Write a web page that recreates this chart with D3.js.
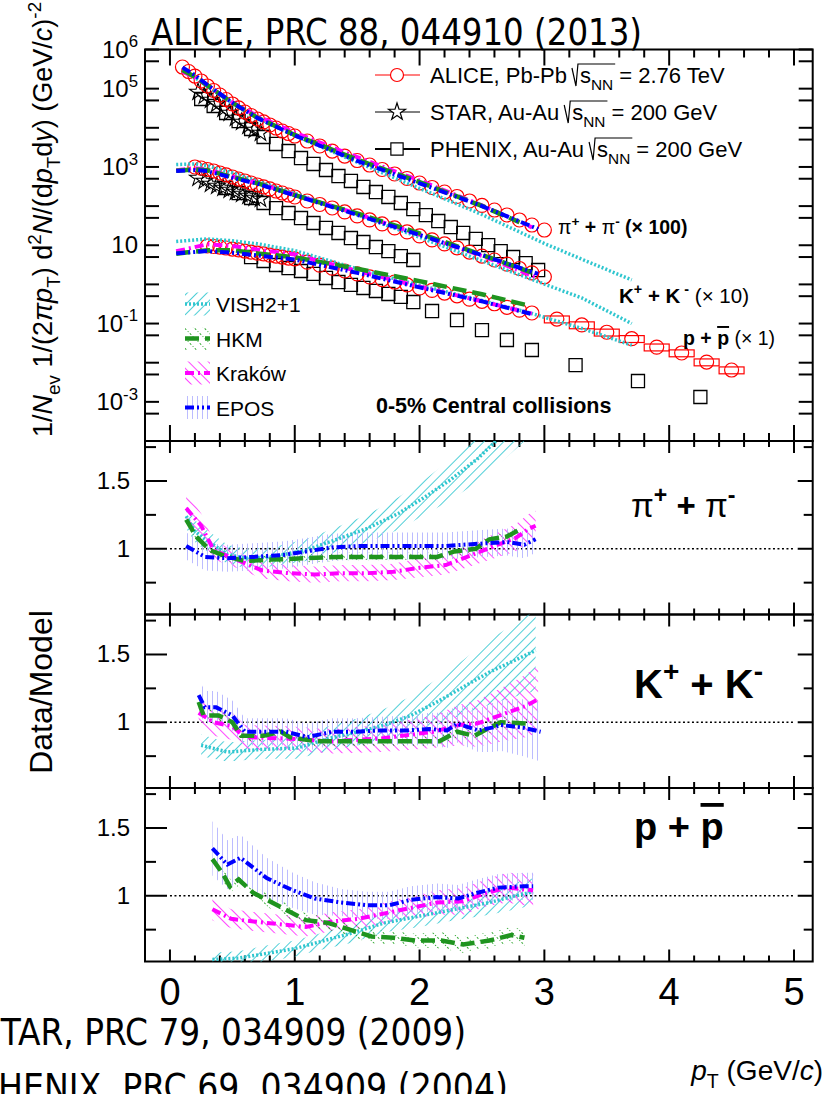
<!DOCTYPE html>
<html>
<head>
<meta charset="utf-8">
<script src="https://cdn.jsdelivr.net/npm/d3@7"></script>
<style>
  body { margin: 0; background: #fff; }
  svg { display: block; }
  text { font-family: "Liberation Sans", Arial, sans-serif; fill: #000; white-space: pre; }
  .hand { font-family: "DejaVu Sans Condensed", "DejaVu Sans", sans-serif; }
</style>
</head>
<body>
<svg id="chart" width="825" height="1094"></svg>
<script>
// ALICE Pb-Pb 0-5%, [pT, yield]; pions x100, kaons x10
const alicePion = [[0.1,357000],[0.15,274000],[0.2,210000],[0.25,157000],[0.3,117000],[0.35,89700],[0.4,68800],[0.45,52800],[0.5,40600],[0.55,32100],[0.6,25300],[0.65,20600],[0.7,16800],[0.75,14100],[0.8,11800],[0.85,9880],[0.9,8280],[0.95,7150],[1.0,6170],[1.1,4600],[1.2,3430],[1.3,2550],[1.4,1900],[1.5,1460],[1.6,1120],[1.7,861],[1.8,661],[1.9,507],[2.0,389],[2.1,299],[2.2,229],[2.3,176],[2.4,135],[2.5,104],[2.6,79.4],[2.7,59.3],[2.8,44.2],[2.9,32.9],[3.0,24.5]];
const aliceKaon = [[0.2,998],[0.25,940],[0.3,861],[0.35,789],[0.4,701],[0.45,624],[0.5,554],[0.55,492],[0.6,438],[0.65,389],[0.7,346],[0.75,308],[0.8,274],[0.85,243],[0.9,216],[0.95,192],[1.0,171],[1.1,135],[1.2,110],[1.3,89.5],[1.4,70.8],[1.5,56],[1.6,44.3],[1.7,35],[1.8,27.7],[1.9,21.9],[2.0,17.3],[2.1,13.7],[2.2,10.8],[2.3,8.6],[2.4,6.7],[2.5,5.3],[2.6,4.2],[2.7,3.3],[2.8,2.55],[2.9,1.97],[3.0,1.56]];
const aliceProton = [[0.3,9.57],[0.35,9.3],[0.4,9.0],[0.45,8.5],[0.5,8.0],[0.55,7.6],[0.6,7.1],[0.65,6.7],[0.7,6.3],[0.75,6.0],[0.8,5.6],[0.85,5.3],[0.9,5.0],[0.95,4.7],[1.0,4.5],[1.1,3.7],[1.2,3.1],[1.3,2.6],[1.4,2.2],[1.5,1.85],[1.6,1.55],[1.7,1.33],[1.8,1.15],[1.9,0.97],[2.0,0.81],[2.1,0.70],[2.2,0.60],[2.3,0.51],[2.4,0.42],[2.5,0.37],[2.6,0.32],[2.7,0.26],[2.8,0.22],[2.9,0.186],[3.1,0.13],[3.3,0.092],[3.5,0.06],[3.7,0.041],[3.9,0.025],[4.1,0.0177],[4.3,0.0104],[4.5,0.0065]];
const aliceProtonSys = 0.2;

// STAR and PHENIX Au-Au 200 GeV
const starPion = [[0.225,82000],[0.275,64900],[0.325,51300],[0.375,40600],[0.425,30200],[0.475,23900],[0.525,17800],[0.575,14100],[0.625,11100],[0.675,8800],[0.725,7370]];
const starKaon = [[0.225,522],[0.275,438],[0.325,367],[0.375,326],[0.425,290],[0.475,258],[0.525,229],[0.575,204],[0.625,181],[0.675,161],[0.725,152]];
const phenixPion = [[0.25,54500],[0.35,36100],[0.45,23900],[0.55,14900],[0.65,9320],[0.75,5820],[0.85,3860],[0.95,2550],[1.05,1690],[1.15,1190],[1.25,836],[1.35,587],[1.45,438],[1.55,308],[1.65,229],[1.75,171],[1.85,120],[1.95,84],[2.05,59],[2.15,41.6],[2.25,29.2],[2.35,20.6],[2.45,14.5],[2.55,10.1],[2.65,7.1],[2.75,5.0],[2.85,3.5],[2.95,2.33]];
const phenixKaon = [[0.45,290],[0.55,216],[0.65,161],[0.75,120],[0.85,89],[0.95,66.6],[1.05,49.6],[1.15,37],[1.25,27.6],[1.35,20.6],[1.45,15.3],[1.55,12.1],[1.65,9.0],[1.75,7.1],[1.85,5.3],[1.95,4.2]];
const phenixProton = [[0.65,5.0],[0.75,3.96],[0.85,3.13],[0.95,2.62],[1.05,2.2],[1.15,1.85],[1.25,1.46],[1.35,1.15],[1.45,0.97],[1.55,0.81],[1.65,0.68],[1.75,0.57],[1.85,0.48],[1.95,0.355],[2.1,0.209],[2.3,0.123],[2.5,0.068],[2.7,0.038],[2.9,0.0211],[3.25,0.0087],[3.75,0.0034],[4.25,0.00133]];

// model spectra, same scaling as the data
const vishPion = [[0.1,288000],[0.2,191000],[0.3,115000],[0.5,42300],[0.7,18100],[1.0,6360],[1.5,1320],[2.0,284],[2.5,61],[3.0,11.1],[3.3,4.4],[3.7,1.3]];
const hkmPion = [[0.1,297000],[0.2,200000],[0.3,121000],[0.5,43700],[0.7,18100],[1.0,6560],[1.5,1550],[2.0,409],[2.5,101],[2.8,38.8]];
const krakowPion = [[0.1,275000],[0.2,188000],[0.3,122000],[0.5,44600],[0.7,20000],[1.0,7520],[1.5,1780],[2.0,452],[2.5,105],[2.9,28.6]];
const eposPion = [[0.1,350000],[0.2,221000],[0.3,124000],[0.5,43700],[0.7,17900],[1.0,6360],[1.5,1430],[2.0,381],[2.5,100],[2.95,26]];
const vishKaon = [[0.05,1150],[0.2,1200],[0.3,1076],[0.5,710],[0.7,433],[1.0,211],[1.5,60],[2.0,16],[2.5,4.0],[3.0,1.02],[3.3,0.45],[3.7,0.10]];
const hkmKaon = [[0.05,800],[0.2,868],[0.3,820],[0.5,554],[0.7,384],[1.0,190],[1.5,65],[2.0,20.1],[2.5,5.7],[2.9,2.0]];
const krakowKaon = [[0.05,830],[0.2,933],[0.3,861],[0.5,571],[0.7,389],[1.0,194],[1.5,64],[2.0,18.6],[2.5,5.35],[2.95,1.45]];
const eposKaon = [[0.05,790],[0.2,832],[0.3,783],[0.5,528],[0.7,372],[1.0,188],[1.5,60],[2.0,18.2],[2.5,5.6],[2.95,1.85]];
const vishProton = [[0.05,12.5],[0.3,14.5],[0.5,13],[0.7,10.9],[1.0,7.3],[1.5,2.5],[2.0,0.95],[2.5,0.39],[2.9,0.18],[3.3,0.075],[3.7,0.028]];
const hkmProton = [[0.05,6.1],[0.3,7.5],[0.5,7.5],[0.7,6.2],[1.0,4.9],[1.5,2.5],[2.0,1.21],[2.5,0.56],[2.85,0.3]];
const krakowProton = [[0.05,7.0],[0.3,10.6],[0.5,9.6],[0.7,7.8],[1.0,5.8],[1.5,2.2],[2.0,0.88],[2.5,0.37],[2.9,0.179]];
const eposProton = [[0.05,6.2],[0.3,7.1],[0.5,6.4],[0.7,5.5],[1.0,4.3],[1.5,1.97],[2.0,0.84],[2.5,0.37],[2.9,0.174]];

// data/model ratios, [pT, ratio, band half-width]
const vishPionR = [[0.13,1.24,0.09],[0.2,1.13,0.08],[0.28,1.07,0.08],[0.46,0.96,0.07],[0.6,0.93,0.07],[0.81,0.94,0.07],[1.09,0.99,0.08],[1.34,1.07,0.09],[1.58,1.15,0.1],[1.83,1.26,0.12],[2.04,1.38,0.13],[2.25,1.51,0.15],[2.46,1.66,0.17],[2.63,1.81,0.19],[2.8,1.97,0.21],[2.95,2.12,0.23]];
const hkmPionR = [[0.13,1.215,0.03],[0.21,1.09,0.03],[0.32,0.99,0.03],[0.46,0.94,0.03],[0.6,0.91,0.03],[0.81,0.92,0.03],[1.09,0.93,0.03],[1.34,0.94,0.03],[1.58,0.94,0.03],[1.86,0.94,0.03],[2.14,0.94,0.03],[2.28,0.98,0.03],[2.45,1.0,0.03],[2.56,1.07,0.03],[2.7,1.09,0.03],[2.8,1.14,0.03]];
const krakowPionR = [[0.13,1.3,0.12],[0.25,1.17,0.09],[0.35,0.99,0.07],[0.53,0.92,0.06],[0.74,0.84,0.06],[0.95,0.82,0.06],[1.16,0.81,0.06],[1.37,0.82,0.06],[1.58,0.82,0.06],[1.79,0.83,0.06],[2.0,0.86,0.07],[2.21,0.88,0.07],[2.42,0.955,0.08],[2.6,1.02,0.09],[2.77,1.08,0.1],[2.88,1.15,0.11],[2.93,1.17,0.11]];
const eposPionR = [[0.13,1.02,0.1],[0.28,0.94,0.1],[0.46,0.93,0.1],[0.67,0.94,0.1],[0.92,0.955,0.1],[1.09,0.98,0.1],[1.3,1.01,0.1],[1.51,1.02,0.1],[1.72,1.02,0.1],[1.97,1.02,0.1],[2.21,1.02,0.1],[2.35,1.03,0.1],[2.53,1.04,0.1],[2.7,1.05,0.1],[2.84,1.03,0.1],[2.93,1.07,0.1]];

const vishKaonR = [[0.25,0.83,0.08],[0.46,0.78,0.07],[0.74,0.8,0.07],[1.02,0.81,0.08],[1.27,0.88,0.09],[1.51,0.93,0.1],[1.72,0.98,0.12],[1.93,1.05,0.14],[2.14,1.15,0.17],[2.35,1.26,0.2],[2.56,1.37,0.24],[2.77,1.46,0.27],[2.93,1.53,0.3]];
const hkmKaonR = [[0.23,1.15,0.04],[0.27,1.05,0.04],[0.39,1.05,0.04],[0.5,1.0,0.04],[0.57,0.9,0.04],[0.75,0.9,0.04],[0.89,0.93,0.04],[0.96,0.89,0.04],[1.17,0.86,0.04],[1.45,0.86,0.04],[1.73,0.86,0.04],[1.95,0.86,0.04],[2.16,0.86,0.04],[2.3,0.93,0.04],[2.44,0.9,0.04],[2.54,0.95,0.04],[2.65,1.0,0.04],[2.86,0.99,0.04]];
const krakowKaonR = [[0.23,1.07,0.1],[0.35,1.0,0.1],[0.5,0.97,0.1],[0.6,0.89,0.09],[0.93,0.88,0.09],[1.3,0.86,0.09],[1.69,0.88,0.1],[2.11,0.93,0.12],[2.32,0.98,0.15],[2.46,0.99,0.17],[2.67,1.06,0.2],[2.85,1.12,0.23],[2.95,1.17,0.25]];
const eposKaonR = [[0.23,1.2,0.12],[0.28,1.11,0.12],[0.37,1.11,0.12],[0.5,1.05,0.11],[0.6,0.93,0.1],[0.82,0.93,0.1],[0.93,0.93,0.1],[1.1,0.89,0.1],[1.3,0.93,0.1],[1.48,0.93,0.1],[1.69,0.94,0.1],[1.9,0.94,0.11],[2.08,0.95,0.12],[2.22,0.94,0.13],[2.3,0.99,0.14],[2.47,0.94,0.16],[2.58,0.96,0.18],[2.65,0.98,0.19],[2.83,0.96,0.21],[2.97,0.93,0.22]];

const vishProtonR = [[0.34,0.53,0.05],[0.55,0.54,0.05],[0.81,0.58,0.06],[1.0,0.61,0.06],[1.16,0.65,0.06],[1.44,0.72,0.07],[1.72,0.8,0.07],[2.0,0.85,0.08],[2.28,0.9,0.08],[2.56,0.95,0.09],[2.77,1.0,0.1],[2.91,1.03,0.1]];
const hkmProtonR = [[0.34,1.27,0.05],[0.425,1.16,0.05],[0.48,1.07,0.05],[0.55,1.12,0.05],[0.67,1.02,0.05],[0.88,0.92,0.05],[1.09,0.82,0.05],[1.265,0.8,0.05],[1.44,0.75,0.05],[1.615,0.7,0.05],[1.79,0.69,0.05],[1.965,0.67,0.05],[2.175,0.67,0.06],[2.35,0.64,0.06],[2.56,0.67,0.06],[2.735,0.71,0.06],[2.84,0.69,0.06]];
const krakowProtonR = [[0.34,0.9,0.08],[0.49,0.83,0.07],[0.67,0.81,0.07],[0.88,0.79,0.07],[1.09,0.77,0.07],[1.3,0.81,0.07],[1.51,0.83,0.07],[1.72,0.87,0.08],[1.93,0.91,0.08],[2.14,0.95,0.09],[2.35,0.96,0.1],[2.53,1.02,0.1],[2.7,1.06,0.11],[2.91,1.04,0.12]];
const eposProtonR = [[0.34,1.35,0.2],[0.46,1.23,0.18],[0.565,1.28,0.17],[0.775,1.13,0.15],[0.985,1.04,0.13],[1.16,0.98,0.12],[1.37,0.95,0.1],[1.58,0.93,0.1],[1.755,0.93,0.1],[1.93,0.97,0.1],[2.14,0.99,0.1],[2.31,0.98,0.1],[2.455,1.02,0.1],[2.63,1.06,0.1],[2.84,1.07,0.1],[2.91,1.07,0.1]];

const xMajor = [0, 1, 2, 3, 4, 5];
const yLabels = [1e6, 1e5, 1e3, 10, 1e-1, 1e-3];
const ratioLabels = [1.5, 1];

const models = [
  { name: 'VISH2+1', color: '#2fc6cf', dash: '2,2', width: 3.5, hatch: 'hVish' },
  { name: 'HKM', color: '#1f941f', dash: '14,6', width: 4.5, hatch: 'hHkm' },
  { name: 'Kraków', color: '#ff00ff', dash: '9,4,2,4', width: 4, hatch: 'hKrakow' },
  { name: 'EPOS', color: '#0000ff', dash: '9,3,2,3,2,3', width: 4, hatch: 'hEpos' }
];
const drawOrder = [0, 2, 1, 3];

const svg = d3.select('#chart');
const defs = svg.append('defs');

const x = d3.scaleLinear().domain([-0.2, 5.15]).range([145, 812.7]);
const spec = { top: 49.5, bottom: 441 };
const ySpec = d3.scaleLog().domain([1e-4, 1e6]).range([spec.bottom, spec.top]);

const ratioPanels = [
  { top: 441, bottom: 614.5, curves: [vishPionR, hkmPionR, krakowPionR, eposPionR] },
  { top: 614.5, bottom: 788, curves: [vishKaonR, hkmKaonR, krakowKaonR, eposKaonR] },
  { top: 788, bottom: 961.5, curves: [vishProtonR, hkmProtonR, krakowProtonR, eposProtonR] }
];
ratioPanels.forEach(p => {
  p.y = d3.scaleLinear().domain([0.515, 1.795]).range([p.bottom, p.top]);
});

function hatch(id, color, angle, gap, width, dash) {
  let p = defs.append('pattern')
    .attr('id', id)
    .attr('patternUnits', 'userSpaceOnUse')
    .attr('width', gap).attr('height', gap)
    .attr('patternTransform', 'rotate(' + angle + ')');
  p.append('line')
    .attr('x1', gap / 2).attr('y1', 0).attr('x2', gap / 2).attr('y2', gap)
    .attr('stroke', color).attr('stroke-width', width)
    .attr('stroke-dasharray', dash || null);
}
hatch('hVish', '#3cc9d2', 45, 7, 0.9);
hatch('hHkm', '#2aa52a', -45, 7, 1, '1,2');
hatch('hKrakow', '#ff33ff', -45, 7, 0.9);
hatch('hEpos', '#b4b4ff', 0, 5, 0.9);

function clip(id, x0, y0, x1, y1) {
  defs.append('clipPath').attr('id', id)
    .append('rect').attr('x', x0).attr('y', y0).attr('width', x1 - x0).attr('height', y1 - y0);
  return 'url(#' + id + ')';
}

// text with sub/superscripts, italics etc.
function rich(text, parts, fs) {
  let off = 0;
  parts.forEach(p => {
    let target = p.sub ? fs * 0.3 : p.sup ? -fs * 0.42 : 0;
    let ts = text.append('tspan').attr('dy', target - off).text(p.t);
    off = target;
    if (p.sub || p.sup) ts.attr('font-size', fs * 0.7);
    if (p.i) ts.attr('font-style', 'italic');
    if (p.b) ts.attr('font-weight', 'bold');
    if (p.over) ts.style('text-decoration', 'overline');
  });
  return text;
}

const xMinor = d3.range(1, 26).map(i => i * 0.2).filter(v => Math.abs(v - Math.round(v)) > 1e-6);

function xTicks(g, y0, y1, lenMaj, lenMin) {
  xMajor.forEach(v => {
    g.append('line').attr('x1', x(v)).attr('x2', x(v)).attr('y1', y0).attr('y2', y0 + lenMaj);
    g.append('line').attr('x1', x(v)).attr('x2', x(v)).attr('y1', y1).attr('y2', y1 - lenMaj);
  });
  xMinor.forEach(v => {
    g.append('line').attr('x1', x(v)).attr('x2', x(v)).attr('y1', y0).attr('y2', y0 + lenMin);
    g.append('line').attr('x1', x(v)).attr('x2', x(v)).attr('y1', y1).attr('y2', y1 - lenMin);
  });
}

const x0 = x.range()[0], x1 = x.range()[1];
const axes = svg.append('g').attr('stroke', '#000').attr('stroke-width', 2);

// ---------- spectra panel ----------
const specG = svg.append('g').attr('clip-path', clip('clipSpec', x0, spec.top, x1, spec.bottom));

const phenixSets = [phenixPion, phenixKaon, phenixProton];
const starSets = [starPion, starKaon];
const aliceSets = [alicePion, aliceKaon, aliceProton];

phenixSets.forEach(set => {
  specG.append('g').selectAll('path').data(set).enter().append('path')
    .attr('d', d3.symbol(d3.symbolSquare, 170)())
    .attr('transform', d => 'translate(' + x(d[0]) + ',' + ySpec(d[1]) + ')')
    .attr('fill', 'none').attr('stroke', '#000').attr('stroke-width', 1.3);
});

starSets.forEach(set => {
  specG.append('g').selectAll('path').data(set).enter().append('path')
    .attr('d', d3.symbol(d3.symbolStar, 90)())
    .attr('transform', d => 'translate(' + x(d[0]) + ',' + ySpec(d[1]) + ')')
    .attr('fill', 'none').attr('stroke', '#000').attr('stroke-width', 1.1);
});

// systematic boxes on the wide high-pT proton bins
specG.append('g').selectAll('rect').data(aliceProton.filter(d => d[0] > 3)).enter().append('rect')
  .attr('x', d => x(d[0] - 0.1))
  .attr('width', d => x(d[0] + 0.1) - x(d[0] - 0.1))
  .attr('y', d => ySpec(d[1] * (1 + aliceProtonSys)))
  .attr('height', d => ySpec(d[1] * (1 - aliceProtonSys)) - ySpec(d[1] * (1 + aliceProtonSys)))
  .attr('fill', 'none').attr('stroke', '#ff0000').attr('stroke-width', 1.2);

aliceSets.forEach(set => {
  specG.append('g').selectAll('circle').data(set).enter().append('circle')
    .attr('cx', d => x(d[0])).attr('cy', d => ySpec(d[1])).attr('r', 7)
    .attr('fill', 'none').attr('stroke', '#ff0000').attr('stroke-width', 1.2);
});

const specModels = [
  [vishPion, vishKaon, vishProton],
  [hkmPion, hkmKaon, hkmProton],
  [krakowPion, krakowKaon, krakowProton],
  [eposPion, eposKaon, eposProton]
];
const specLine = d3.line().x(d => x(d[0])).y(d => ySpec(d[1]));
drawOrder.forEach(m => {
  specModels[m].forEach(set => {
    specG.append('path').attr('d', specLine(set))
      .attr('fill', 'none').attr('stroke', models[m].color)
      .attr('stroke-width', models[m].width).attr('stroke-dasharray', models[m].dash);
  });
});

axes.append('rect').attr('x', x0).attr('y', spec.top).attr('width', x1 - x0).attr('height', spec.bottom - spec.top).attr('fill', 'none');
xTicks(axes, spec.top, spec.bottom, 16, 8);
d3.range(-4, 7).forEach(n => {
  [Math.pow(10, n), 5 * Math.pow(10, n - 1)].forEach(v => {
    if (v < 1e-4 || v > 1e6) return;
    let yy = ySpec(v);
    axes.append('line').attr('x1', x0).attr('x2', x0 + 14).attr('y1', yy).attr('y2', yy);
    axes.append('line').attr('x1', x1).attr('x2', x1 - 14).attr('y1', yy).attr('y2', yy);
  });
});

yLabels.forEach(v => {
  let n = Math.round(Math.log10(v));
  let t = svg.append('text').attr('x', 138).attr('y', ySpec(v) + 8).attr('text-anchor', 'end').attr('font-size', 24);
  if (n === 1) t.text('10');
  else rich(t, [{ t: '10' }, { t: String(n), sup: true }], 24);
});

// data legend
const leg = svg.append('g');
const legRows = [
  { y: 75, label: 'ALICE, Pb-Pb', energy: '2.76 TeV', mark: 'circle', lw: 1.2, color: '#ff0000' },
  { y: 112, label: 'STAR, Au-Au', energy: '200 GeV', mark: 'star', lw: 1, color: '#000' },
  { y: 149, label: 'PHENIX, Au-Au', energy: '200 GeV', mark: 'square', lw: 2.2, color: '#000' }
];
legRows.forEach(r => {
  leg.append('line').attr('x1', 375).attr('x2', 420).attr('y1', r.y).attr('y2', r.y)
    .attr('stroke', r.color).attr('stroke-width', r.lw);
  if (r.mark === 'circle') {
    leg.append('circle').attr('cx', 397).attr('cy', r.y).attr('r', 6.5)
      .attr('fill', '#fff').attr('stroke', r.color).attr('stroke-width', 1.2);
  } else {
    leg.append('path')
      .attr('d', d3.symbol(r.mark === 'star' ? d3.symbolStar : d3.symbolSquare, r.mark === 'star' ? 90 : 150)())
      .attr('transform', 'translate(397,' + r.y + ')')
      .attr('fill', '#fff').attr('stroke', '#000').attr('stroke-width', 1.2);
  }
  let base = r.y + 8;
  let t1 = leg.append('text').attr('x', 430).attr('y', base).attr('font-size', 22).text(r.label);
  let sx = 430 + t1.node().getComputedTextLength() + 5;
  let t2 = leg.append('text').attr('x', sx + 8).attr('y', base).attr('font-size', 22);
  rich(t2, [{ t: 's' }, { t: 'NN', sub: true }], 22);
  let w2 = t2.node().getBBox().width;
  let top = base - 19;
  leg.append('path')
    .attr('d', 'M' + sx + ',' + (top + 4) + 'L' + (sx + 4) + ',' + (base + 3) + 'L' + (sx + 6) + ',' + top + 'L' + (sx + 10 + w2) + ',' + top)
    .attr('fill', 'none').attr('stroke', '#000').attr('stroke-width', 1.2);
  leg.append('text').attr('x', sx + 14 + w2).attr('y', base).attr('font-size', 22).text('= ' + r.energy);
});

// model legend
const mLegY = [304, 338.5, 373, 407.5];
models.forEach((m, i) => {
  let yy = mLegY[i];
  leg.append('rect').attr('x', 185).attr('y', yy - 11.5).attr('width', 25).attr('height', 23)
    .attr('fill', 'url(#' + m.hatch + ')');
  leg.append('line').attr('x1', 185).attr('x2', 210).attr('y1', yy).attr('y2', yy)
    .attr('stroke', m.color).attr('stroke-width', m.width).attr('stroke-dasharray', m.dash);
  leg.append('text').attr('x', 216).attr('y', yy + 8).attr('font-size', 21).text(m.name);
});

svg.append('text').attr('x', 376).attr('y', 413).attr('font-size', 21.5).attr('font-weight', 'bold')
  .text('0-5% Central collisions');

rich(svg.append('text').attr('x', 558).attr('y', 234).attr('font-size', 19.5), [
  { t: 'π' }, { t: '+', sup: true, b: true }, { t: ' + ', b: true }, { t: 'π' }, { t: '-', sup: true, b: true }, { t: ' (× 100)', b: true }
], 19.5);
rich(svg.append('text').attr('x', 619).attr('y', 303).attr('font-size', 20.5), [
  { t: 'K', b: true }, { t: '+', sup: true, b: true }, { t: ' + K', b: true }, { t: ' -', sup: true, b: true }, { t: ' (× 10)' }
], 20.5);
rich(svg.append('text').attr('x', 683).attr('y', 345).attr('font-size', 19.5), [
  { t: 'p + ', b: true }, { t: 'p', b: true, over: true }, { t: ' (× 1)' }
], 19.5);

// ---------- ratio panels ----------
const ratioNames = [
  [{ t: 'π' }, { t: '+', sup: true, b: true }, { t: ' + ', b: true }, { t: 'π' }, { t: '-', sup: true, b: true }],
  [{ t: 'K', b: true }, { t: '+', sup: true, b: true }, { t: ' + K', b: true }, { t: '-', sup: true, b: true }],
  [{ t: 'p + ', b: true }, { t: 'p', b: true, over: true }]
];
const ratioNamePos = [[631, 517, 33], [634, 698, 40], [634, 840, 38]];

ratioPanels.forEach((p, k) => {
  let g = svg.append('g').attr('clip-path', clip('clipR' + k, x0, p.top, x1, p.bottom));
  let area = d3.area().x(d => x(d[0])).y0(d => p.y(d[1] - d[2])).y1(d => p.y(d[1] + d[2]));
  let line = d3.line().x(d => x(d[0])).y(d => p.y(d[1]));

  g.append('line').attr('x1', x(0)).attr('x2', x(5)).attr('y1', p.y(1)).attr('y2', p.y(1))
    .attr('stroke', '#000').attr('stroke-width', 1.6).attr('stroke-dasharray', '2,2.5');

  drawOrder.forEach(m => {
    g.append('path').attr('d', area(p.curves[m])).attr('fill', 'url(#' + models[m].hatch + ')');
  });
  drawOrder.forEach(m => {
    g.append('path').attr('d', line(p.curves[m]))
      .attr('fill', 'none').attr('stroke', models[m].color)
      .attr('stroke-width', models[m].width).attr('stroke-dasharray', models[m].dash);
  });

  axes.append('rect').attr('x', x0).attr('y', p.top).attr('width', x1 - x0).attr('height', p.bottom - p.top).attr('fill', 'none');
  xTicks(axes, p.top, p.bottom, 12, 6);
  [0.75, 1, 1.25, 1.5, 1.75].forEach(v => {
    let major = v === 1 || v === 1.5;
    let yy = p.y(v);
    axes.append('line').attr('x1', x0).attr('x2', x0 + (major ? 22 : 11)).attr('y1', yy).attr('y2', yy);
    axes.append('line').attr('x1', x1).attr('x2', x1 - (major ? 15 : 9)).attr('y1', yy).attr('y2', yy);
  });
  ratioLabels.forEach(v => {
    svg.append('text').attr('x', 130).attr('y', p.y(v) + 8).attr('text-anchor', 'end')
      .attr('font-size', 24).text(v);
  });
  let np = ratioNamePos[k];
  rich(svg.append('text').attr('x', np[0]).attr('y', np[1]).attr('font-size', np[2]), ratioNames[k], np[2]);
});

// x tick labels
xMajor.forEach(v => {
  svg.append('text').attr('x', x(v)).attr('y', 1005).attr('text-anchor', 'middle')
    .attr('font-size', 38).text(v);
});

// axis titles
rich(svg.append('text').attr('transform', 'translate(52,437) rotate(-90)').attr('font-size', 27), [
  { t: '1/' }, { t: 'N', i: true }, { t: 'ev', sub: true }, { t: ' 1/(2' }, { t: 'π', i: true },
  { t: 'p', i: true }, { t: 'T', sub: true }, { t: ') d' }, { t: '2', sup: true }, { t: 'N', i: true },
  { t: '/(d' }, { t: 'p', i: true }, { t: 'T', sub: true }, { t: 'd' }, { t: 'y', i: true },
  { t: ') (GeV/' }, { t: 'c', i: true }, { t: ')' }, { t: '-2', sup: true }
], 27);

svg.append('text').attr('transform', 'translate(52,692) rotate(-90)').attr('text-anchor', 'middle')
  .attr('font-size', 32).text('Data/Model');

rich(svg.append('text').attr('x', 823).attr('y', 1080).attr('text-anchor', 'end').attr('font-size', 28), [
  { t: 'p', i: true }, { t: 'T', sub: true }, { t: ' (GeV/' }, { t: 'c', i: true }, { t: ')' }
], 28);

// references
svg.append('text').attr('class', 'hand').attr('x', 151).attr('y', 45).attr('font-size', 38)
  .attr('textLength', 491).attr('lengthAdjust', 'spacingAndGlyphs').text('ALICE, PRC 88, 044910 (2013)');
svg.append('text').attr('class', 'hand').attr('x', -20).attr('y', 1045).attr('font-size', 37)
  .attr('textLength', 486).attr('lengthAdjust', 'spacingAndGlyphs').text('STAR, PRC 79, 034909 (2009)');
svg.append('text').attr('class', 'hand').attr('x', -22).attr('y', 1100).attr('font-size', 37)
  .attr('textLength', 530).attr('lengthAdjust', 'spacingAndGlyphs').text('PHENIX, PRC 69, 034909 (2004)');
</script>
</body>
</html>
